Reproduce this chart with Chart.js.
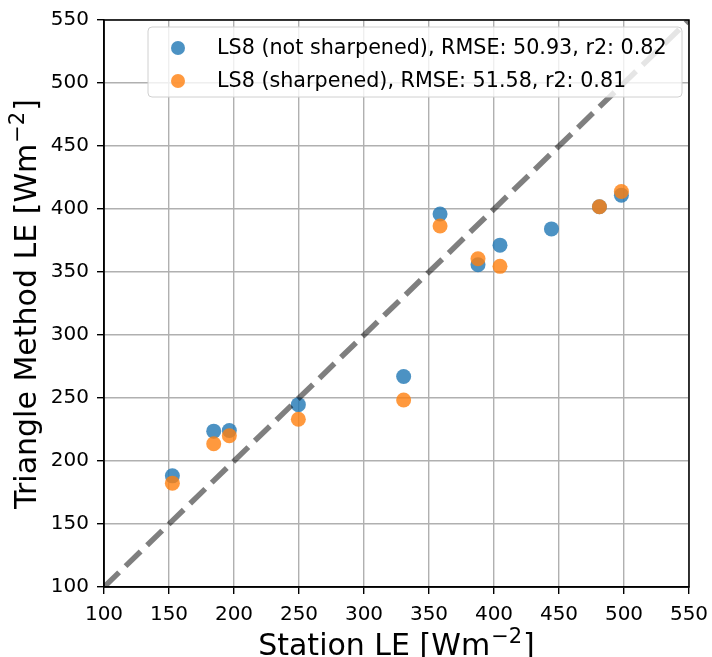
<!DOCTYPE html>
<html>
<head>
<meta charset="utf-8">
<script src="https://cdn.jsdelivr.net/npm/chart.js@4"></script>
<style>
  body { margin: 0; background: #fff; }
  #wrap { width: 712px; height: 657px; }
</style>
</head>
<body>
<div id="wrap"><canvas id="scatterChart" width="712" height="657"></canvas></div>
<script>
// Station LE vs Triangle method LE
const stationLE = [152.6, 184.4, 196.4, 249.5, 330.5, 358.5, 387.7, 404.6, 444.2, 481.1, 498.0];
const notSharpened = [188.2, 223.7, 224.2, 244.7, 267.1, 396.0, 355.7, 371.3, 384.2, 401.8, 411.0];
const sharpened = [182.4, 213.7, 220.0, 233.1, 248.4, 386.5, 360.5, 354.5, null, 401.8, 413.9];
const seriesLabels = [
    'LS8 (not sharpened), RMSE: 50.93, r2: 0.82',
    'LS8 (sharpened), RMSE: 51.58, r2: 0.81'
];
const axisTicks = [100, 150, 200, 250, 300, 350, 400, 450, 500, 550];
const oneToOne = [100, 550];
const xTitle = ['Station LE [Wm', '\u22122', ']'];
const yTitle = ['Triangle Method LE [Wm', '\u22122', ']'];

const FONT = "'DejaVu Sans', sans-serif";

function toPoints(xs, ys) {
    return xs.map((x, i) => ({ x: x, y: ys[i] })).filter(p => p.y !== null);
}

// box around the plot area (matplotlib spines)
const framePlugin = {
    id: 'frame',
    afterDraw(chart) {
        const a = chart.chartArea, ctx = chart.ctx;
        ctx.save();
        ctx.strokeStyle = '#000';
        ctx.lineWidth = 1.5;
        ctx.strokeRect(a.left, a.top, a.right - a.left, a.bottom - a.top);
        ctx.restore();
    }
};

// axis titles with a real superscript
function drawTitle(ctx, parts, cx, baseY) {
    const big = '30px ' + FONT, small = '21px ' + FONT;
    ctx.font = big;
    const w0 = ctx.measureText(parts[0]).width;
    const w2 = ctx.measureText(parts[2]).width;
    ctx.font = small;
    const w1 = ctx.measureText(parts[1]).width;
    let x = cx - (w0 + w1 + w2 + 2) / 2;
    ctx.textAlign = 'left';
    ctx.textBaseline = 'alphabetic';
    ctx.fillStyle = '#000';
    ctx.font = big;
    ctx.fillText(parts[0], x, baseY);
    x += w0 + 1;
    ctx.font = small;
    ctx.fillText(parts[1], x, baseY - 12);
    x += w1 + 1;
    ctx.font = big;
    ctx.fillText(parts[2], x, baseY);
}

const titlePlugin = {
    id: 'titles',
    afterDraw(chart) {
        const a = chart.chartArea, ctx = chart.ctx;
        ctx.save();
        drawTitle(ctx, xTitle, (a.left + a.right) / 2, 655);
        ctx.translate(36, 304);
        ctx.rotate(-Math.PI / 2);
        drawTitle(ctx, yTitle, 0, 0);
        ctx.restore();
    }
};

// legend inside the plot, top right
const legendPlugin = {
    id: 'innerLegend',
    afterDraw(chart) {
        const ctx = chart.ctx;
        const left = 148, top = 27, right = 682, bottom = 97;
        ctx.save();
        ctx.beginPath();
        ctx.roundRect(left, top, right - left, bottom - top, 4);
        ctx.fillStyle = 'rgba(255,255,255,0.8)';
        ctx.fill();
        ctx.strokeStyle = '#d0d0d0';
        ctx.lineWidth = 1;
        ctx.stroke();
        ctx.font = '20.7px ' + FONT;
        ctx.textBaseline = 'middle';
        const rows = [48, 81];
        [0, 1].forEach(i => {
            const ds = chart.data.datasets[i];
            ctx.beginPath();
            ctx.arc(178, rows[i], 7, 0, Math.PI * 2);
            ctx.fillStyle = ds.backgroundColor;
            ctx.fill();
            ctx.fillStyle = '#000';
            ctx.fillText(ds.label, 217, rows[i] + 1);
        });
        ctx.restore();
    }
};

const ctx = document.getElementById('scatterChart').getContext('2d');
const chart = new Chart(ctx, {
    type: 'scatter',
    data: {
        datasets: [
            {
                label: seriesLabels[0],
                data: toPoints(stationLE, notSharpened),
                backgroundColor: 'rgba(31,119,180,0.8)',
                borderWidth: 0,
                pointRadius: 7.5,
                order: 3
            },
            {
                label: seriesLabels[1],
                data: toPoints(stationLE, sharpened),
                backgroundColor: 'rgba(255,127,14,0.8)',
                borderWidth: 0,
                pointRadius: 7.5,
                order: 2
            },
            {
                type: 'line',
                label: '1:1',
                data: toPoints(oneToOne, oneToOne),
                borderColor: 'rgba(0,0,0,0.5)',
                borderWidth: 5.5,
                borderDash: [21, 9],
                pointRadius: 0,
                fill: false,
                order: 1
            }
        ]
    },
    options: {
        responsive: false,
        animation: false,
        layout: { padding: { left: 0, right: 0, top: 18, bottom: 0 } },
        plugins: {
            legend: { display: false },
            tooltip: { enabled: false }
        },
        scales: {
            x: {
                type: 'linear',
                min: 100, max: 550,
                afterBuildTicks: s => { s.ticks = axisTicks.map(v => ({ value: v })); },
                afterFit: s => { s.height = 657 - 587; s.paddingRight = 23; },
                grid: { color: '#b0b0b0', lineWidth: 1.4, tickColor: '#000', tickLength: 7, drawTicks: true },
                border: { color: '#000', width: 1.5 },
                ticks: { color: '#000', font: { family: FONT, size: 20 }, padding: 9, maxRotation: 0 },
                title: { display: false }
            },
            y: {
                type: 'linear',
                min: 100, max: 550,
                afterBuildTicks: s => { s.ticks = axisTicks.map(v => ({ value: v })); },
                afterFit: s => { s.width = 104; },
                grid: { color: '#b0b0b0', lineWidth: 1.4, tickColor: '#000', tickLength: 7, drawTicks: true },
                border: { color: '#000', width: 1.5 },
                ticks: { color: '#000', font: { family: FONT, size: 20 }, padding: 8 },
                title: { display: false }
            }
        }
    },
    plugins: [framePlugin, legendPlugin, titlePlugin]
});
</script>
</body>
</html>
